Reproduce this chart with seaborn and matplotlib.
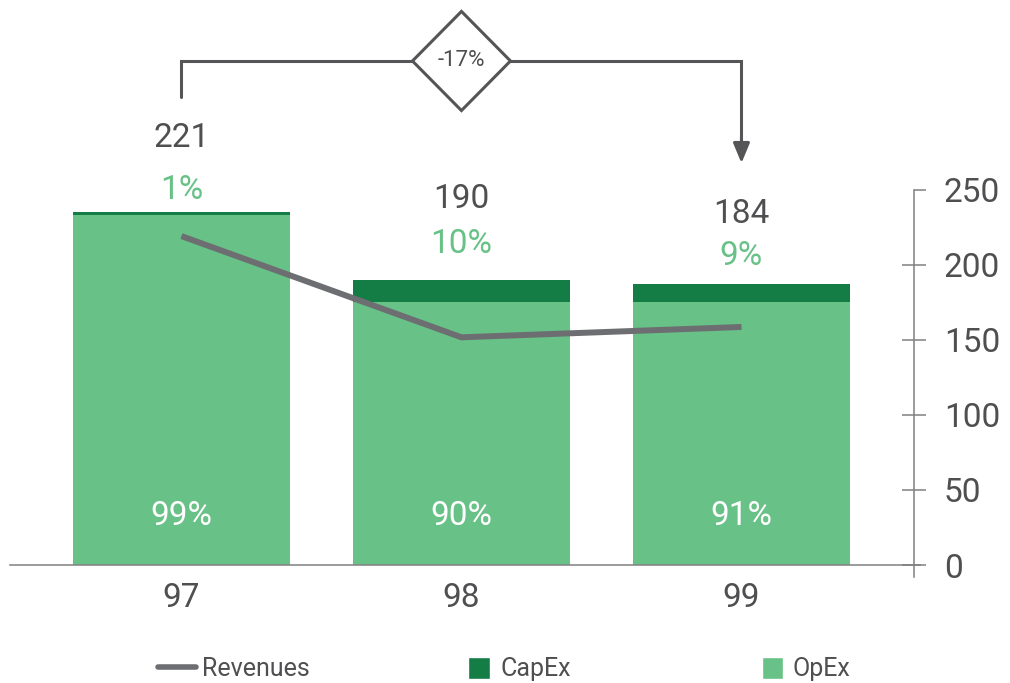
import numpy as np
import pandas as pd
import matplotlib
matplotlib.use("Agg")
import matplotlib.pyplot as plt
import matplotlib.markers as mmarkers
import seaborn as sns
from matplotlib.patches import Polygon, Patch
from matplotlib.lines import Line2D

# ── Data ────────────────────────────────────────────────────────────────────
years = ["97", "98", "99"]
opex = [233, 175, 175]
capex = [2, 15, 12]
revenues = [219, 151.6, 158.5]
total_labels = [221, 190, 184]
capex_pct = [1, 10, 9]
opex_pct = [99, 90, 91]
y_ticks = [0, 50, 100, 150, 200, 250]

# ── Style ───────────────────────────────────────────────────────────────────
OPEX_C = "#68c186"
CAPEX_C = "#147c45"
LINE_C = "#6d6e71"
TEXT_C = "#4f4f51"
AXIS_C = "#808080"
BRACKET_C = "#555557"

sns.set_style("white")
plt.rcParams["font.family"] = ["Roboto", "DejaVu Sans"]

df = pd.DataFrame({"year": years, "opex": opex, "capex": capex})
df["total"] = df["opex"] + df["capex"]

fig = plt.figure(figsize=(10.1, 6.83), dpi=100)
ax = fig.add_axes([0, 0, 1, 1])

# stacked bars: total in dark green, opex drawn over it
bar_kw = dict(width=0.775, saturation=1, errorbar=None, ax=ax, zorder=2,
              linewidth=0, edgecolor="none")
sns.barplot(data=df, x="year", y="total", color=CAPEX_C, **bar_kw)
sns.barplot(data=df, x="year", y="opex", color=OPEX_C, **bar_kw)

xpos = np.arange(len(years))
sns.lineplot(x=xpos, y=revenues, color=LINE_C, lw=4.3, ax=ax, zorder=3,
             solid_capstyle="butt", solid_joinstyle="miter")

ax.set_xlim(-0.648, 2.959)
ax.set_ylim(-78.56, 376.2)
ax.set_xlabel("")
ax.set_ylabel("")

# axes / spines
for s in ["top", "left"]:
    ax.spines[s].set_visible(False)
ax.spines["bottom"].set_position(("data", 0))
ax.spines["bottom"].set_bounds(-0.6125, 2.6375)
ax.spines["right"].set_position(("data", 2.616))
ax.spines["right"].set_bounds(-8, 250)
for s in ["bottom", "right"]:
    ax.spines[s].set_color(AXIS_C)
    ax.spines[s].set_linewidth(1.1)
    ax.spines[s].set_zorder(4)

ax.set_xticks(xpos, years)
ax.tick_params(axis="x", length=0, labelsize=24, labelcolor=TEXT_C, pad=12)
ax.yaxis.set_ticks_position("right")
ax.set_yticks(y_ticks)
ax.tick_params(axis="y", direction="inout", length=17, width=1.1, color=AXIS_C,
               labelsize=24, labelcolor=TEXT_C, pad=13)
# top tick only points outward, like the reference
top_tick = ax.yaxis.get_major_ticks()[len(y_ticks) - 1]
top_tick.tick2line.set_marker(mmarkers.TICKRIGHT)
top_tick.tick2line.set_markersize(8.5)

# labels above and inside the bars
value_off = [49, 54, 47]
pct_off = [15, 24, 19]
for i, row in df.iterrows():
    top = row["total"]
    ax.text(i, top + value_off[i], str(total_labels[i]), ha="center", va="center",
            fontsize=24, color=TEXT_C)
    ax.text(i, top + pct_off[i], f"{capex_pct[i]}%", ha="center", va="center",
            fontsize=24, color=OPEX_C)
    ax.text(i, 32.5, f"{opex_pct[i]}%", ha="center", va="center",
            fontsize=24, color="white")

# bracket with change from first to last label
br_y = 335.6
ax.plot([0, 0, 1], [311.8, br_y, br_y], color=BRACKET_C, lw=2.2, zorder=3,
        solid_joinstyle="miter")
ax.plot([1, 2, 2], [br_y, br_y, 280], color=BRACKET_C, lw=2.2, zorder=3,
        solid_joinstyle="miter")
ax.annotate("", xy=(2, 267.6), xytext=(2, 285),
            arrowprops=dict(arrowstyle="-|>,head_length=0.6,head_width=0.25",
                            color=BRACKET_C, lw=2.2, mutation_scale=20,
                            shrinkA=0, shrinkB=0))
dx, dy = 0.175, 33
diamond = Polygon([(1 - dx, br_y), (1, br_y + dy), (1 + dx, br_y), (1, br_y - dy)],
                  closed=True, facecolor="white", edgecolor=BRACKET_C, lw=2.2, zorder=4)
ax.add_patch(diamond)
change = round((total_labels[-1] - total_labels[0]) / total_labels[0] * 100)
ax.text(1, br_y, f"{change}%", ha="center", va="center", fontsize=16,
        color=TEXT_C, zorder=5)

# legend, three separate entries spread along the bottom
leg_y = (683 - 669) / 683
entries = [
    (Line2D([], [], color=LINE_C, lw=4), "Revenues", 158, 1.5, 0.7, 0.25),
    (Patch(facecolor=CAPEX_C), "CapEx", 468, 0.88, 1.0, 0.4),
    (Patch(facecolor=OPEX_C), "OpEx", 762, 0.85, 1.0, 0.35),
]
for handle, label, px, hl, hh, tp in entries:
    fig.legend([handle], [label], loc="center left",
               bbox_to_anchor=(px / 1010, leg_y), frameon=False,
               fontsize=18, labelcolor=TEXT_C, borderpad=0, borderaxespad=0,
               handlelength=hl, handleheight=hh, handletextpad=tp)

fig.savefig("out.png", dpi=100, facecolor="white")
